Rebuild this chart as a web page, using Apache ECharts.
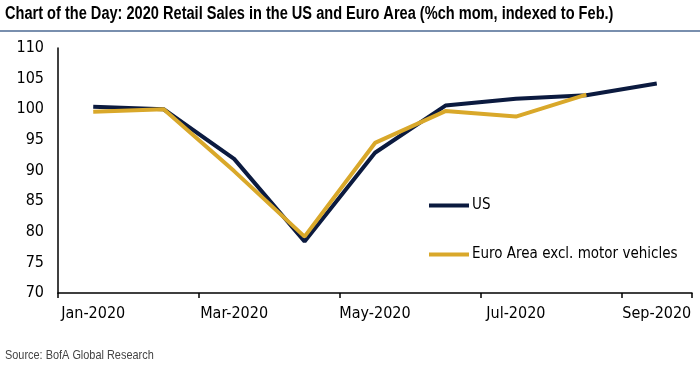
<!DOCTYPE html>
<html><head><meta charset="utf-8">
<script src="https://cdn.jsdelivr.net/npm/echarts@6/dist/echarts.min.js"></script>
<style>html,body{margin:0;padding:0;background:#fff}#c{width:700px;height:369px}</style>
</head><body><div id="c"></div>
<script>
const categories = ['Jan-2020','Feb-2020','Mar-2020','Apr-2020','May-2020','Jun-2020','Jul-2020','Aug-2020','Sep-2020'];
const usValues = [100.4, 100.0, 91.9, 78.4, 92.9, 100.6, 101.7, 102.3, 104.2];
const euroValues = [99.6, 100.0, 89.9, 79.2, 94.5, 99.7, 98.8, 102.4, null];
const yTicks = [70, 75, 80, 85, 90, 95, 100, 105, 110];
const FONT = '"DejaVu Sans Condensed", "Liberation Sans", Arial, sans-serif';
const chart = echarts.init(document.getElementById('c'));
chart.setOption({
  animation: false,
  textStyle: { fontFamily: FONT },
  graphic: [{
    type: 'text', x: 5, y: 5, scaleX: 0.81,
    style: { text: 'Chart of the Day: 2020 Retail Sales in the US and Euro Area (%ch mom, indexed to Feb.)',
      font: 'bold 18px "Liberation Sans", Arial, sans-serif', fill: '#000' }
  }, {
    type: 'text', x: 5, y: 349, scaleX: 0.84,
    style: { text: 'Source: BofA Global Research', font: '13px "Liberation Sans", Arial, sans-serif', fill: '#444' }
  }, {
    type: 'line', shape: { x1: 0, y1: 31, x2: 700, y2: 31 },
    style: { stroke: '#4d6a93', lineWidth: 1.5 }
  }],
  legend: {
    orient: 'vertical', left: 429, top: 198, padding: 0, itemWidth: 40, itemHeight: 4, itemGap: 34,
    icon: 'rect',
    textStyle: { fontFamily: FONT, fontSize: 15, color: '#000', padding: [0,0,0,-2] },
    data: ['US', 'Euro Area excl. motor vehicles']
  },
  grid: { left: 58, right: 8, top: 48, bottom: 76 },
  xAxis: {
    type: 'category', data: categories, boundaryGap: true,
    axisLine: { lineStyle: { color: '#000', width: 1.5 } },
    axisTick: { show: true, interval: 1, length: 5, lineStyle: { color: '#000', width: 1.5 } },
    axisLabel: { interval: 1, margin: 13, fontFamily: FONT, fontSize: 16, color: '#000' },
    splitLine: { show: false }
  },
  yAxis: {
    type: 'value', min: yTicks[0], max: yTicks[yTicks.length-1], interval: 5,
    axisLine: { show: true, lineStyle: { color: '#000', width: 1.5 } },
    axisTick: { show: false },
    axisLabel: { margin: 14, fontFamily: FONT, fontSize: 16, color: '#000' },
    splitLine: { show: false }
  },
  series: [{
    name: 'US', type: 'line', data: usValues, symbol: 'none', z: 2,
    lineStyle: { color: '#0b1a3f', width: 4 }, itemStyle: { color: '#0b1a3f' }
  }, {
    name: 'Euro Area excl. motor vehicles', type: 'line', data: euroValues, symbol: 'none', z: 3,
    lineStyle: { color: '#d9a82a', width: 4 }, itemStyle: { color: '#d9a82a' }
  }]
});
</script></body></html>
